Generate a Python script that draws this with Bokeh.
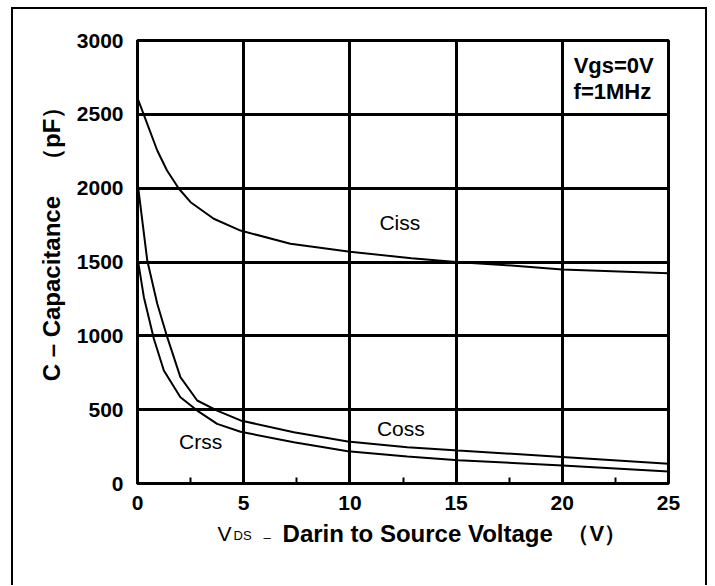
from bokeh.plotting import figure
from bokeh.layouts import column
from bokeh.models import FixedTicker, Label, Range1d
from bokeh.core.properties import value
from bokeh.embed import file_html
from bokeh.resources import INLINE

# ---- data ----
x_ticks = [0, 5, 10, 15, 20, 25]
x_minor = [2.5, 7.5, 12.5, 17.5, 22.5]
y_ticks = [0, 500, 1000, 1500, 2000, 2500, 3000]

ciss_v = [0, 0.3, 0.93, 1.39, 1.95, 2.5, 3.59, 4.85, 7.2, 10, 12.9, 15, 17.2, 20, 25]
ciss_c = [2610, 2497, 2255, 2120, 1996, 1905, 1793, 1713, 1623, 1570, 1525, 1500, 1480, 1449, 1424]

coss_v = [0, 0.05, 0.46, 0.93, 1.40, 2.02, 2.81, 3.75, 4.85, 7.36, 9.9, 12.7, 15.1, 20, 25]
coss_c = [2050, 1984, 1510, 1217, 991, 720, 562, 494, 427, 347, 284, 246, 223, 180, 134]

crss_v = [0, 0.3, 0.77, 1.24, 2.02, 2.81, 3.75, 4.85, 7.36, 9.9, 12.7, 15.1, 20, 25]
crss_c = [1530, 1262, 980, 765, 584, 494, 404, 350, 280, 219, 183, 158, 122, 81]

curve_names = ["Ciss", "Coss", "Crss"]
curve_label_x = [12.35, 12.4, 2.97]
curve_label_y = [1765, 372, 284]

cond_lines = ["Vgs=0V", "f=1MHz"]
cond_x = [22.42, 22.36]
cond_y = [2831, 2655]

# x-axis title pieces: V, subscript DS, dash, bold title, unit
xt_texts = ["V", "DS", "–", "Darin to Source Voltage", "（V）"]
xt_x = [3.77, 4.52, 5.93, 6.83, 20.24]

FONT = "Liberation Sans"
LEFT, RIGHT, FW = 124, 37, 531

p = figure(width=LEFT + FW + RIGHT, height=31 + 443 + 37,
           x_range=Range1d(0, 25), y_range=Range1d(0, 3000),
           output_backend="svg", toolbar_location=None,
           min_border_left=LEFT, min_border_right=RIGHT,
           min_border_top=31, min_border_bottom=37,
           background_fill_color="white", border_fill_color="white")

p.outline_line_color = "black"
p.outline_line_width = 3
p.outline_line_alpha = 1.0

p.xaxis.ticker = FixedTicker(ticks=x_ticks, minor_ticks=x_minor)
p.yaxis.ticker = FixedTicker(ticks=y_ticks, minor_ticks=[])

for ax in (p.xaxis, p.yaxis):
    ax.axis_line_color = "black"
    ax.axis_line_width = 3
    ax.major_tick_line_color = None
    ax.major_label_text_font = FONT
    ax.major_label_text_font_style = "bold"
    ax.major_label_text_font_size = "21px"
    ax.major_label_text_color = "black"

p.xaxis.minor_tick_line_color = "black"
p.xaxis.minor_tick_line_width = 2
p.xaxis.minor_tick_in = 6
p.xaxis.minor_tick_out = 0
p.yaxis.minor_tick_line_color = None
p.xaxis.major_label_standoff = 6
p.yaxis.major_label_standoff = 8

p.yaxis.axis_label = "\u3000\u3000C – Capacitance　（pF）"
p.yaxis.axis_label_text_font = FONT
p.yaxis.axis_label_text_font_style = "bold"
p.yaxis.axis_label_text_font_size = "24px"
p.yaxis.axis_label_text_color = "black"
p.yaxis.axis_label_standoff = 9

for g in (p.xgrid, p.ygrid):
    g.grid_line_color = "black"
    g.grid_line_width = 3
    g.grid_line_alpha = 1.0

p.line(ciss_v, ciss_c, line_color="black", line_width=2)
p.line(coss_v, coss_c, line_color="black", line_width=2)
p.line(crss_v, crss_c, line_color="black", line_width=2)

for name, lx, ly in zip(curve_names, curve_label_x, curve_label_y):
    p.add_layout(Label(x=lx, y=ly, text=name, text_font=FONT, text_font_size="21px",
                       text_align="center", text_baseline="middle", text_color="black"))

for t, lx, ly in zip(cond_lines, cond_x, cond_y):
    p.add_layout(Label(x=lx, y=ly, text=t, text_font=FONT, text_font_size="22px",
                       text_font_style="bold", text_align="center", text_baseline="middle",
                       text_color="black"))

# strip below the chart carrying the x-axis title (same x scale as the chart)
H2 = 65
p2 = figure(width=LEFT + FW + RIGHT, height=H2,
            x_range=p.x_range, y_range=Range1d(0, H2),
            x_axis_type=None, y_axis_type=None,
            output_backend="svg", toolbar_location=None,
            min_border_left=LEFT, min_border_right=RIGHT,
            min_border_top=0, min_border_bottom=0,
            background_fill_color="white", border_fill_color="white")
p2.outline_line_color = None
p2.grid.visible = False

p2.text(x=[xt_x[0]], y=[52], text=[xt_texts[0]], text_font=value(FONT),
        text_font_size="21px", text_align="left", text_baseline="alphabetic", text_color="black")
p2.text(x=[xt_x[1]], y=[50], text=[xt_texts[1]], text_font=value(FONT),
        text_font_size="13px", text_align="left", text_baseline="alphabetic", text_color="black")
p2.text(x=[xt_x[2]], y=[48], text=[xt_texts[2]], text_font=value(FONT),
        text_font_size="13px", text_align="left", text_baseline="alphabetic", text_color="black")
p2.text(x=[xt_x[3]], y=[52], text=[xt_texts[3]], text_font=value(FONT),
        text_font_size="24px", text_font_style="bold", text_align="left",
        text_baseline="alphabetic", text_color="black")
p2.text(x=[xt_x[4]], y=[52], text=[xt_texts[4]], text_font=value(FONT),
        text_font_size="22px", text_font_style="bold", text_align="left",
        text_baseline="alphabetic", text_color="black")

layout = column(p, p2, spacing=0)
layout.styles = {"border-top": "2px solid black", "border-left": "2px solid black",
                 "border-right": "2px solid black", "margin-left": "11px",
                 "margin-top": "7px", "background-color": "white"}

open("out.html", "w").write(file_html(layout, INLINE))
